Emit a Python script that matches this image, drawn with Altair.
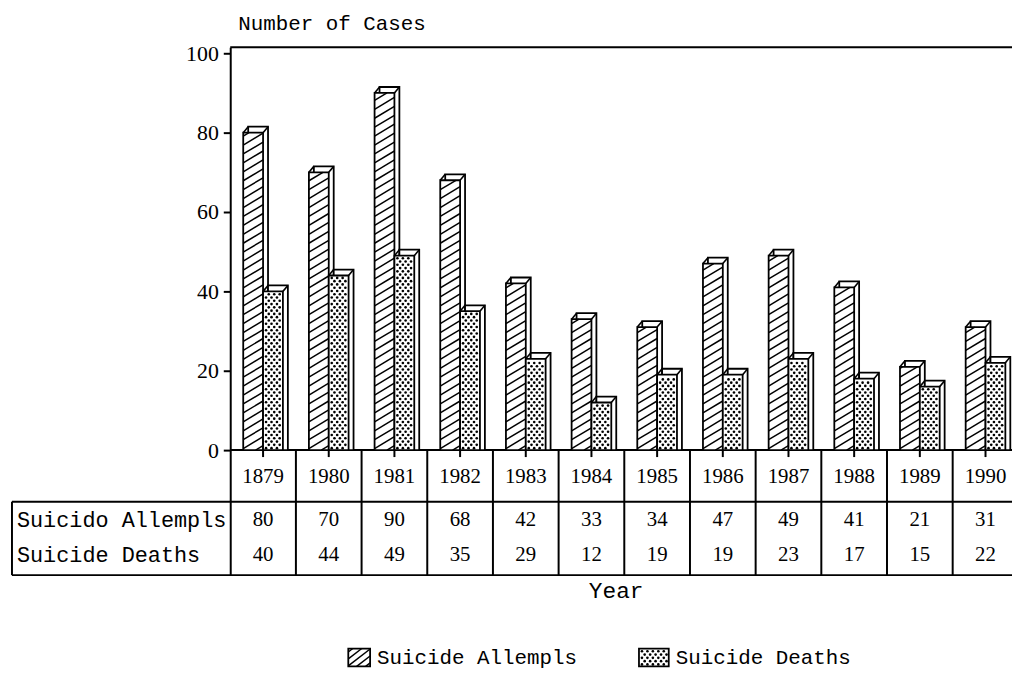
import altair as alt
import pandas as pd

# ---------------- data ----------------
years = ["1879", "1980", "1981", "1982", "1983", "1984", "1985", "1986", "1987", "1988", "1989", "1990"]
attempts_table = [80, 70, 90, 68, 42, 33, 34, 47, 49, 41, 21, 31]
deaths_table = [40, 44, 49, 35, 29, 12, 19, 19, 23, 17, 15, 22]
# bar heights as drawn in the picture
attempts_bar = [80, 70, 90, 68, 42, 33, 31, 47, 49, 41, 21, 31]
deaths_bar = [40, 44, 49, 35, 23, 12, 19, 19, 23, 18, 16, 22]
row_labels = ["Suicido Allempls", "Suicide Deaths"]
legend_labels = ["Suicide Allempls", "Suicide Deaths"]
y_ticks = [0, 20, 40, 60, 80, 100]
y_title = "Number of Cases"
x_title = "Year"

# ---------------- layout (pixel -> data units) ----------------
PX_X = 66.2          # px per column
PX_Y = 4.0           # px per case
W, H = 788, 532
XMAX = W / PX_X
YMAX = 101.5
YMIN = YMAX - H / PX_Y
BAR_W = 20 / PX_X
DX = 5 / PX_X
DY = 6 / PX_Y
LBX = -220 / PX_X           # left edge of the label box
ROW_YEAR = -27 / PX_Y
ROW_LINE = -52 / PX_Y
ROW_A = -70 / PX_Y
ROW_D = -106 / PX_Y
Y_XTITLE = -142 / PX_Y
Y_LEGEND = -210 / PX_Y
Y_TITLE = 429 / PX_Y


def hatch(xl, xr, yb, yt, rise, sp):
    segs = []
    y0 = yb - rise + sp * 0.5
    while y0 < yt:
        t0 = max(0.0, (yb - y0) / rise)
        t1 = min(1.0, (yt - y0) / rise)
        if t1 > t0:
            segs.append(dict(x=xl + t0 * (xr - xl), y=y0 + t0 * rise,
                             x2=xl + t1 * (xr - xl), y2=y0 + t1 * rise))
        y0 += sp
    return segs


def dots(xl, xr, yb, yt):
    pts = []
    sx = 5.5 / PX_X
    sy = 3.3 / PX_Y
    y = yb + 2 / PX_Y
    r = 0
    while y < yt - 1.5 / PX_Y:
        x = xl + 3 / PX_X + (sx / 2 if r % 2 else 0)
        while x < xr - 2 / PX_X:
            pts.append(dict(x=x, y=y))
            x += sx
        y += sy
        r += 1
    return pts


fronts_a, fronts_d, backs_a, backs_d = [], [], [], []
diag_a, diag_d, hatch_a, dots_d = [], [], [], []
for i, (a, d) in enumerate(zip(attempts_bar, deaths_bar)):
    c = i + 0.5
    for (xl, xr, h, fr, bk, dg) in [(c - BAR_W, c, a, fronts_a, backs_a, diag_a),
                                    (c, c + BAR_W, d, fronts_d, backs_d, diag_d)]:
        fr.append(dict(x=xl, x2=xr, y=h, y2=0))
        bk.append(dict(x=xl + DX, x2=xr + DX, y=h + DY, y2=0))
        dg.append(dict(x=xl, y=h, x2=xl + DX, y2=h + DY))
        dg.append(dict(x=xr, y=h, x2=xr + DX, y2=h + DY))
    hatch_a += hatch(c - BAR_W, c, 0, a, 12 / PX_Y, 9 / PX_Y)
    dots_d += dots(c, c + BAR_W, 0, d)

# legend swatches
sw1 = dict(x=(351 - 232) / PX_X, x2=(373 - 232) / PX_X, y=(451 - 651) / PX_Y, y2=(451 - 669) / PX_Y)
sw2 = dict(x=(644 - 232) / PX_X, x2=(674 - 232) / PX_X, y=(451 - 651) / PX_Y, y2=(451 - 669) / PX_Y)
legend_rects = [sw1, sw2]
legend_hatch = hatch(sw1["x"], sw1["x2"], sw1["y2"], sw1["y"], 17 / PX_Y, 7 / PX_Y)
legend_dots = dots(sw2["x"], sw2["x2"], sw2["y2"], sw2["y"])
legend_text = [dict(x=(380 - 232) / PX_X, y=Y_LEGEND, t=legend_labels[0]),
               dict(x=(681 - 232) / PX_X, y=Y_LEGEND, t=legend_labels[1])]

# frame / table lines
lines = [
    dict(x=0, y=YMAX, x2=XMAX, y2=YMAX),
    dict(x=0, y=0, x2=XMAX, y2=0),
    dict(x=LBX, y=ROW_LINE, x2=XMAX, y2=ROW_LINE),
    dict(x=LBX, y=YMIN, x2=XMAX, y2=YMIN),
    dict(x=LBX, y=ROW_LINE, x2=LBX, y2=YMIN),
]
for i in range(1, len(years)):
    if i < XMAX:
        lines.append(dict(x=i, y=0, x2=i, y2=YMIN))
ticks = [dict(x=i + 0.5, y=0, x2=i + 0.5, y2=-7 / PX_Y) for i in range(len(years))]

year_text = [dict(x=i + 0.5, y=ROW_YEAR, t=y) for i, y in enumerate(years)]
val_text = ([dict(x=i + 0.5, y=ROW_A, t=str(v)) for i, v in enumerate(attempts_table)] +
            [dict(x=i + 0.5, y=ROW_D, t=str(v)) for i, v in enumerate(deaths_table)])
row_text = [dict(x=LBX + 5 / PX_X, y=ROW_A, t=row_labels[0]),
            dict(x=LBX + 5 / PX_X, y=ROW_D, t=row_labels[1])]
titles = [dict(x=8 / PX_X, y=Y_TITLE, t=y_title)]
xtitle = [dict(x=(621 - 232) / PX_X, y=Y_XTITLE, t=x_title)]

# ---------------- encodings ----------------
xs = alt.Scale(domain=[0, XMAX], nice=False, zero=False)
ys = alt.Scale(domain=[YMIN, YMAX], nice=False, zero=False)
yaxis = alt.Axis(values=y_ticks, tickSize=7, tickWidth=2, tickColor="black",
                 domainColor="black", domainWidth=2, grid=False,
                 labelFont="Liberation Serif", labelFontSize=22, labelColor="black",
                 labelPadding=5)


def X():
    return alt.X("x:Q", scale=xs, axis=None)


def Y():
    return alt.Y("y:Q", scale=ys, axis=yaxis, title=None)


def rects(rows, fill, sw=1.8):
    return alt.Chart(pd.DataFrame(rows)).mark_rect(fill=fill, stroke="black", strokeWidth=sw).encode(
        x=X(), x2="x2:Q", y=Y(), y2="y2:Q")


def rules(rows, sw=2):
    return alt.Chart(pd.DataFrame(rows)).mark_rule(color="black", strokeWidth=sw).encode(
        x=X(), x2="x2:Q", y=Y(), y2="y2:Q")


def points(rows):
    return alt.Chart(pd.DataFrame(rows)).mark_circle(color="black", opacity=1, size=7).encode(
        x=X(), y=Y())


def texts(rows, font, size, align="center", weight="normal"):
    return alt.Chart(pd.DataFrame(rows)).mark_text(font=font, fontSize=size, align=align,
                                                   fontWeight=weight,
                                                   baseline="middle", color="black").encode(
        x=X(), y=Y(), text="t:N")


layers = [
    rules(lines),
    rules(ticks),
    rects(backs_a, "white"), rules(diag_a, 1.6), rects(fronts_a, "white"), rules(hatch_a, 1.5),
    rects(backs_d, "white"), rules(diag_d, 1.6), rects(fronts_d, "white"), points(dots_d),
    rects(legend_rects, "white"), rules(legend_hatch, 1.5), points(legend_dots),
    texts(year_text, "Liberation Serif", 21),
    texts(val_text, "Liberation Serif", 21),
    texts(row_text, "Liberation Mono", 22, "left"),
    texts(titles, "Liberation Mono", 21, "left"),
    texts(xtitle, "Liberation Mono", 23),
    texts(legend_text, "Liberation Mono", 21, "left"),
]

chart = alt.layer(*layers).properties(
    width=W, height=H,
    autosize=alt.AutoSizeParams(type="none"),
    padding={"left": 224, "top": 37, "right": 0, "bottom": 93},
    background="white",
).configure_view(stroke="transparent")

chart.save("out.html", embed_options={"renderer": "svg", "actions": False})
